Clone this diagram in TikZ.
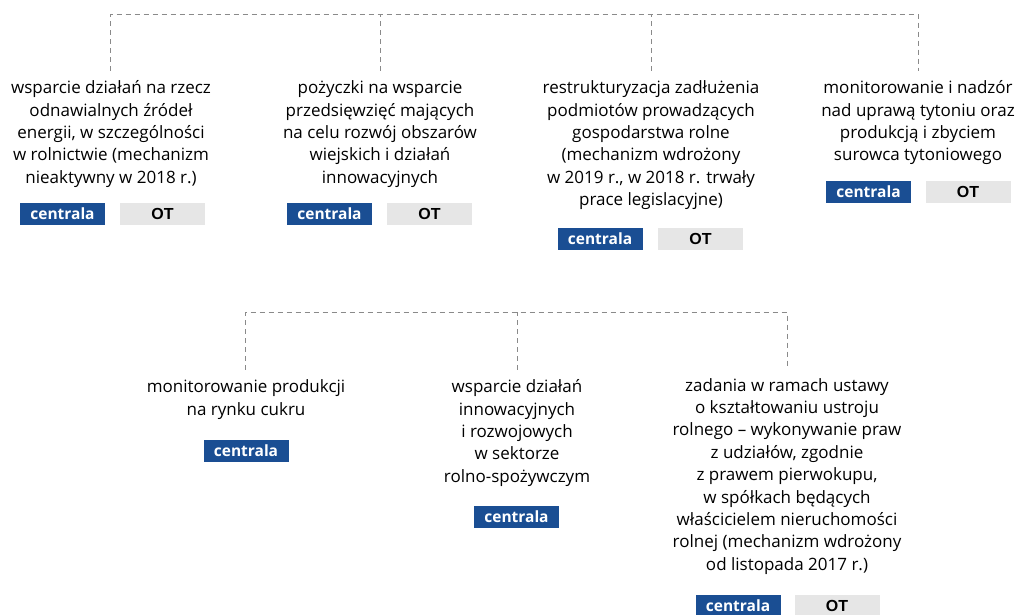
\documentclass[tikz,border=0pt]{standalone}
\usepackage{fontspec}
\setmainfont{Open Sans}
\newfontfamily\otfont{Liberation Sans}
\definecolor{cblue}{HTML}{1A4E93}
\definecolor{cgrey}{HTML}{E6E6E6}
\definecolor{cline}{HTML}{8A8A8A}
\tikzset{
  txt/.style={anchor=north, inner sep=0pt, align=center, text=black,
    font=\fontsize{17}{22.4}\selectfont},
  cbadge/.style={fill=cblue, text=white, minimum width=85pt, minimum height=22pt, inner sep=0pt,
    font=\fontsize{15.5}{18}\selectfont\bfseries},
  obadge/.style={fill=cgrey, text=black, minimum width=85pt, minimum height=22pt, inner sep=0pt,
    font=\otfont\fontsize{16}{18}\selectfont\bfseries},
  conn/.style={draw=cline, line width=1pt, dash pattern=on 5pt off 4pt},
}
\begin{document}
\begin{tikzpicture}[x=1pt,y=-1pt]
\useasboundingbox (0,0) rectangle (1019,614);
% top row
\coordinate (bus) at (0,14);
\node[txt] (t1) at (111,80.5) {wsparcie działań na rzecz\\odnawialnych źródeł\\energii, w szczególności\\w rolnictwie (mechanizm\\nieaktywny w 2018 r.)};
\node[txt] (t2) at (380,80.5) {pożyczki na wsparcie\\przedsięwzięć mających\\na celu rozwój obszarów\\wiejskich i działań\\innowacyjnych};
\node[txt] (t3) at (651,80.5) {restrukturyzacja zadłużenia\\podmiotów prowadzących\\gospodarstwa rolne\\(mechanizm wdrożony\\w 2019 r., w 2018 r. trwały\\prace legislacyjne)};
\node[txt] (t4) at (918,80.5) {monitorowanie i nadzór\\nad uprawą tytoniu oraz\\produkcją i zbyciem\\surowca tytoniowego};
\node[cbadge] (c1) at (62.5,214) {centrala};
\node[obadge] (o1) at (162.5,214) {OT};
\node[cbadge] (c2) at (329.5,214) {centrala};
\node[obadge] (o2) at (429.5,214) {OT};
\node[cbadge] (c3) at (600,239) {centrala};
\node[obadge] (o3) at (700.5,239) {OT};
\node[cbadge] (c4) at (868.5,191.5) {centrala};
\node[obadge] (o4) at (968,191.5) {OT};
\draw[conn, shorten <=10pt, shorten >=10pt] (t1.north -| 110,0) -- (110,14) -- (t4.north |- bus) -- (t4.north);
\draw[conn, shorten <=10pt] (t2.north) -- (t2.north |- bus);
\draw[conn, shorten <=10pt] (t3.north) -- (t3.north |- bus);
% bottom row
\coordinate (bus2) at (0,312);
\node[txt] (u1) at (246,379.5) {monitorowanie produkcji\\na rynku cukru};
\node[txt] (u2) at (517,379.5) {wsparcie działań\\innowacyjnych\\i rozwojowych\\w sektorze\\rolno-spożywczym};
\node[txt] (u3) at (787,378) {zadania w ramach ustawy\\o kształtowaniu ustroju\\rolnego -- wykonywanie praw\\z udziałów, zgodnie\\z prawem pierwokupu,\\w spółkach będących\\właścicielem nieruchomości\\rolnej (mechanizm wdrożony\\od listopada 2017 r.)};
\node[cbadge] (c5) at (246,451) {centrala};
\node[cbadge] (c6) at (516.5,516.5) {centrala};
\node[cbadge] (c7) at (738,606) {centrala};
\node[obadge] (o7) at (837,606) {OT};
\draw[conn, shorten <=10pt, shorten >=10pt] (u1.north -| 245,0) -- (245,312) -- (u3.north |- bus2) -- (u3.north);
\draw[conn, shorten <=10pt] (u2.north) -- (u2.north |- bus2);
\end{tikzpicture}
\end{document}
